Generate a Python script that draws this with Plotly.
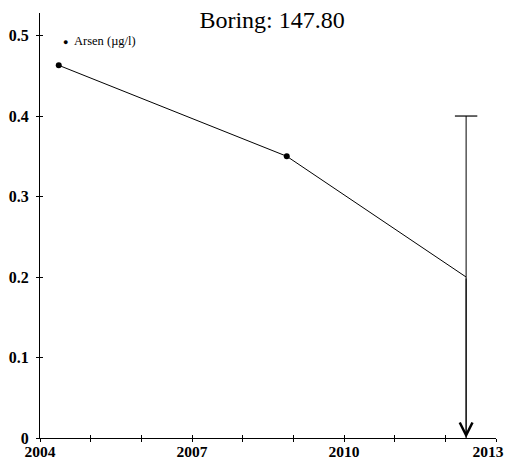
import plotly.graph_objects as go

# Measured values (decimal years)
years = [2004.37, 2008.87, 2012.41]
arsen = [0.463, 0.35, 0.2]
# last sample is below detection: range shown as error bar
upper = [None, None, 0.4]
lower = [None, None, 0.0]

x_ticks = [2004, 2007, 2010, 2013]

serif = "Liberation Serif"
tick_font = dict(family=serif, size=15.5, color='black', weight='bold')

fig = go.Figure()

# connecting line
fig.add_trace(go.Scatter(x=years, y=arsen, mode='lines',
                         line=dict(color='black', width=1), showlegend=False))

# measured points (not the last one)
fig.add_trace(go.Scatter(x=years[:2], y=arsen[:2], mode='markers',
                         marker=dict(color='black', size=6), showlegend=False))

# vertical range for the last sample
fig.add_trace(go.Scatter(x=[years[2], years[2]], y=[lower[2], upper[2]], mode='lines',
                         line=dict(color='black', width=1), showlegend=False))
# top cap
fig.add_trace(go.Scatter(x=[years[2]], y=[upper[2]], mode='markers',
                         marker=dict(symbol='line-ew-open', size=16, color='black',
                                     line=dict(color='black', width=1.2)),
                         showlegend=False))
# bottom arrow
fig.add_annotation(x=years[2], y=lower[2], ax=years[2], ay=arsen[2],
                   xref='x', yref='y', axref='x', ayref='y', text='',
                   showarrow=True, arrowhead=5, arrowsize=2.5, arrowwidth=1,
                   arrowcolor='black')

# invisible traces so the overlay axes get drawn
fig.add_trace(go.Scatter(x=years[:1], y=arsen[:1], xaxis='x2', yaxis='y2', mode='markers',
                         marker=dict(opacity=0), hoverinfo='skip', showlegend=False))
fig.add_trace(go.Scatter(x=years[:1], y=arsen[:1], xaxis='x3', yaxis='y', mode='markers',
                         marker=dict(opacity=0), hoverinfo='skip', showlegend=False))

# legend as text
fig.add_annotation(x=0.047, y=0.935, xref='paper', yref='paper', xanchor='left', yanchor='middle',
                   text='<span style="font-size:9px">●</span>  Arsen (µg/l)', showarrow=False,
                   font=dict(family=serif, size=12.5, color='black'))

# page body adds an 8px offset, so the figure is 8px smaller than the window
W, H = 505, 457
fig.update_layout(
    width=W, height=H,
    margin=dict(l=32, r=17, t=5, b=24),
    paper_bgcolor='white', plot_bgcolor='white',
    title=dict(text='Boring: 147.80', x=0.523, xref='container', xanchor='center',
               y=1 - 3 / H, yref='container', yanchor='top', pad=dict(t=0),
               font=dict(family=serif, size=24, color='black')),
    showlegend=False,
    # inner half of the crossing ticks
    xaxis2=dict(overlaying='x', anchor='y', range=[2004, 2013], showgrid=False, zeroline=False,
                showline=False, showticklabels=False, tickmode='linear', tick0=2004, dtick=1,
                ticks='inside', ticklen=3, tickcolor='black'),
    yaxis2=dict(overlaying='y', anchor='x', range=[0, 0.528], showgrid=False, zeroline=False,
                showline=False, showticklabels=False, tickmode='linear', tick0=0, dtick=0.1,
                ticks='inside', ticklen=3, tickcolor='black'),
    # last year label, nudged left so it stays inside the window
    xaxis3=dict(overlaying='x', anchor='y', range=[2004, 2013], showgrid=False, zeroline=False,
                showline=False, tickmode='array', tickvals=x_ticks[-1:],
                ticktext=[str(v) for v in x_ticks[-1:]],
                ticks='outside', ticklen=3, tickcolor='black', ticklabelstandoff=-4,
                ticklabelshift=-8, ticklabeloverflow='allow', tickfont=tick_font),
)

fig.layout.xaxis.update(range=[2004, 2013], showgrid=False, zeroline=False, automargin=False,
                        showline=True, linecolor='black', linewidth=1,
                        tickmode='array', tickvals=x_ticks[:-1],
                        ticktext=[str(v) for v in x_ticks[:-1]],
                        ticks='outside', ticklen=3, tickcolor='black', ticklabeloverflow='allow',
                        ticklabelstandoff=-4,
                        minor=dict(dtick=1, tick0=2004, tickmode='linear', ticks='outside',
                                   ticklen=3, tickcolor='black'),
                        tickfont=tick_font)
fig.layout.yaxis.update(range=[0, 0.528], showgrid=False, zeroline=False, automargin=False,
                        showline=True, linecolor='black', linewidth=1,
                        tickmode='linear', tick0=0, dtick=0.1,
                        ticks='outside', ticklen=3, tickcolor='black', ticklabelstandoff=4,
                        tickfont=dict(family=serif, size=16, color='black', weight='bold'))

fig.write_html("out.html")
